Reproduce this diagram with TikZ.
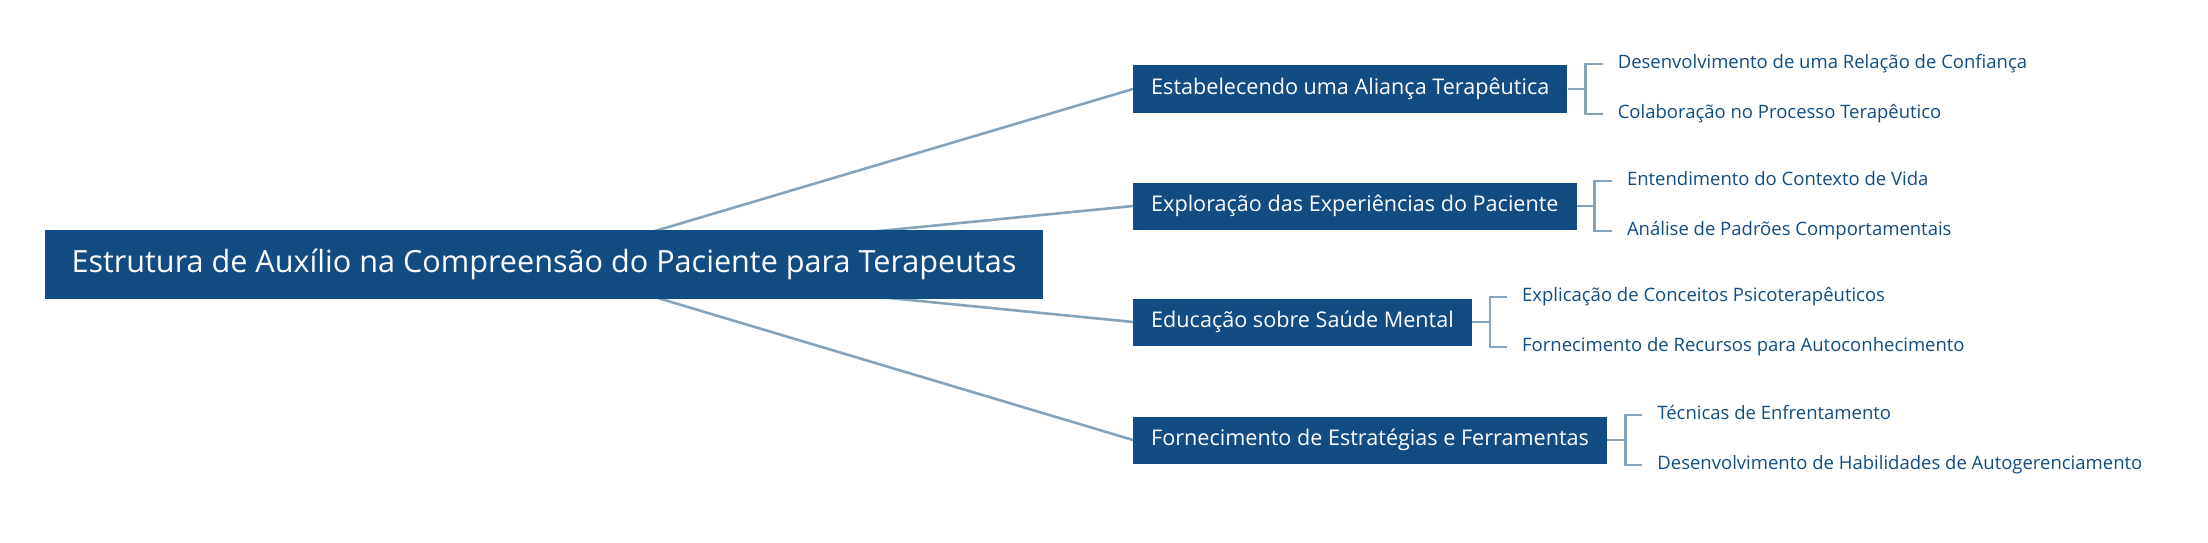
\documentclass[tikz,border=0pt]{standalone}
\usepackage{fontspec}
\setmainfont{Open Sans}
\usepackage{tikz}
\usetikzlibrary{positioning,calc}
\definecolor{navy}    {HTML}{114D82}
\definecolor{steel}   {HTML}{86A3BC}
\tikzset{
  % --- nodes
  topic/.style = {fill=navy, text=white, inner sep=0pt, anchor=west,
                  font=\fontsize{21.6}{25}\selectfont},
  leaf/.style  = {text=navy, anchor=west, inner ysep=0pt, inner xsep=15pt,
                  text height=12pt, text depth=3pt,
                  font=\fontsize{18.5}{22}\selectfont},
  % --- edges
  e/.style     = {draw=steel, line width=2.6pt},
  br/.style    = {draw=steel, line width=2.8pt},
}

\begin{document}
\begin{tikzpicture}[x=1pt,y=-1pt,
  root/.style={fill=navy,text=white,minimum width=998pt,minimum height=69pt,
               inner sep=0pt,font=\fontsize{30.6}{36}\selectfont},
  s/.style={topic,minimum height=47pt,text height=16pt,text depth=5pt,inner xsep=18pt},
]
  \useasboundingbox (0,0) rectangle (2208,543);
  \node[s] (b1) at (1133,89)  {Estabelecendo uma Aliança Terapêutica};
  \node[s] (b2) at (1133,206) {Exploração das Experiências do Paciente};
  \node[s] (b3) at (1133,322) {Educação sobre Saúde Mental};
  \node[s] (b4) at (1133,440) {Fornecimento de Estratégias e Ferramentas};
  % connectors from the centre, hidden behind the root
  \coordinate (c) at (544,264);
  \foreach \b in {b1,b2,b3,b4} \draw[e] (c) -- (\b.west);
  \node[root] (root) at (c) {Estrutura de Auxílio na Compreensão do Paciente para Terapeutas};
  % sub topics
  \node[leaf] (l1a) at ($(b1.east)+(35,-25)$) {Desenvolvimento de uma Relação de Confiança};
  \node[leaf] (l1b) at ($(b1.east)+(35,25)$)  {Colaboração no Processo Terapêutico};
  \node[leaf] (l2a) at ($(b2.east)+(35,-25)$) {Entendimento do Contexto de Vida};
  \node[leaf] (l2b) at ($(b2.east)+(35,25)$)  {Análise de Padrões Comportamentais};
  \node[leaf] (l3a) at ($(b3.east)+(35,-25)$) {Explicação de Conceitos Psicoterapêuticos};
  \node[leaf] (l3b) at ($(b3.east)+(35,25)$)  {Fornecimento de Recursos para Autoconhecimento};
  \node[leaf] (l4a) at ($(b4.east)+(35,-25)$) {Técnicas de Enfrentamento};
  \node[leaf] (l4b) at ($(b4.east)+(35,25)$)  {Desenvolvimento de Habilidades de Autogerenciamento};
  \foreach \b/\x in {b1/1,b2/2,b3/3,b4/4} {
    \draw[br] (\b.east) -- ++(18,0) coordinate (k\x);
    \draw[br] (l\x a.west) -| (k\x) |- (l\x b.west);
  }
\end{tikzpicture}
\end{document}
